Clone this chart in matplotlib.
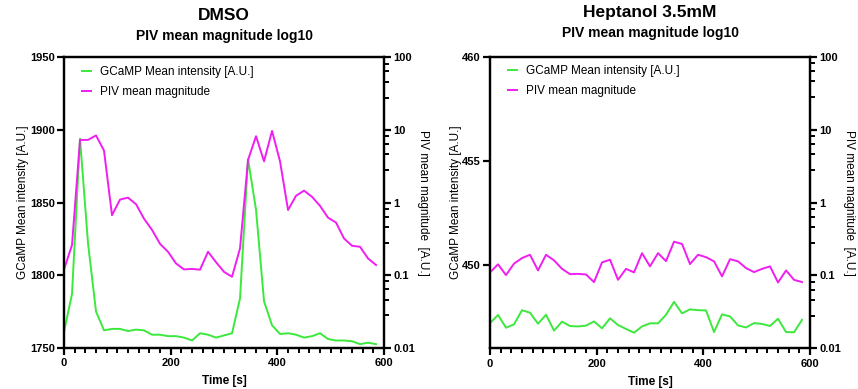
import numpy as np
import matplotlib
matplotlib.use("Agg")
import matplotlib.pyplot as plt
from matplotlib.ticker import FixedLocator, NullLocator, FuncFormatter, NullFormatter

plt.rcParams['font.family'] = ['Liberation Sans', 'DejaVu Sans']

time_s = list(range(0, 600, 15))

dmso_gcamp = [1761, 1787, 1894, 1822, 1775, 1762, 1763, 1763, 1761.5, 1762.5,
              1762, 1759, 1759, 1758, 1758, 1757, 1755, 1760, 1759, 1757,
              1758.5, 1760, 1784, 1880, 1845, 1782, 1765.5, 1759.5, 1760, 1759,
              1757, 1758, 1760, 1756, 1755, 1755, 1754.5, 1752.5, 1753.5, 1752.5]
dmso_piv = [0.12, 0.26, 7.3, 7.3, 8.4, 5.2, 0.67, 1.1, 1.17, 0.95,
            0.6, 0.42, 0.27, 0.21, 0.145, 0.12, 0.122, 0.119, 0.21, 0.151,
            0.111, 0.095, 0.234, 3.86, 8.2, 3.7, 9.7, 3.7, 0.79, 1.24,
            1.46, 1.2, 0.90, 0.62, 0.53, 0.32, 0.254, 0.246, 0.17, 0.138]

hept_gcamp = [447.21, 447.6, 446.99, 447.15, 447.83, 447.71, 447.18, 447.61, 446.85, 447.28,
              447.07, 447.05, 447.09, 447.29, 446.96, 447.44, 447.12, 446.93, 446.75, 447.05,
              447.2, 447.2, 447.61, 448.23, 447.68, 447.87, 447.83, 447.82, 446.78, 447.63,
              447.53, 447.1, 447.0, 447.21, 447.17, 447.07, 447.42, 446.78, 446.77, 447.37]
hept_piv = [0.110, 0.142, 0.101, 0.145, 0.173, 0.192, 0.117, 0.192, 0.161, 0.123,
            0.104, 0.105, 0.103, 0.081, 0.151, 0.164, 0.087, 0.123, 0.110, 0.202,
            0.133, 0.202, 0.157, 0.29, 0.27, 0.143, 0.192, 0.178, 0.156, 0.097,
            0.167, 0.156, 0.126, 0.111, 0.123, 0.133, 0.080, 0.117, 0.087, 0.081]

titles = ["DMSO", "Heptanol 3.5mM"]
subtitle = "PIV mean magnitude log10"
left_limits = [(1750, 1950), (446, 460)]
left_ticks = [[1750, 1800, 1850, 1900, 1950], [450, 455, 460]]
x_ticks = [0, 200, 400, 600]
log_ticks = [0.01, 0.1, 1, 10, 100]

GREEN = '#3DE83D'
MAGENTA = '#F01EF0'

fig = plt.figure(figsize=(8.58, 3.89), dpi=100)
positions = [[0.0746, 0.106, 0.373, 0.7465], [0.5711, 0.1046, 0.373, 0.7496]]
title_y = [(16, 36), (13, 33)]
datasets = [(dmso_gcamp, dmso_piv), (hept_gcamp, hept_piv)]

minor_log = []
for k in range(-2, 2):
    for j in range(1, 5):
        minor_log.append(10.0 ** k * (1 + 1.8 * j))

def fmt_log(v, pos):
    if v >= 1:
        return f"{v:.0f}"
    return f"{v:g}"

for i in range(2):
    ax = fig.add_axes(positions[i])
    ax2 = ax.twinx()
    g, p = datasets[i]
    l1, = ax.plot(time_s, g, color=GREEN, lw=1.4, label='GCaMP Mean intensity [A.U.]')
    l2, = ax2.plot(time_s, p, color=MAGENTA, lw=1.4, label='PIV mean magnitude')
    ax.set_xlim(0, 600)
    ax.set_ylim(*left_limits[i])
    ax.set_yticks(left_ticks[i])
    ax.set_xticks(x_ticks)
    ax.xaxis.set_minor_locator(FixedLocator(list(range(20, 600, 20))))
    ax.yaxis.set_minor_locator(NullLocator())
    ax2.set_yscale('log')
    ax2.set_ylim(0.01, 100)
    ax2.yaxis.set_major_locator(FixedLocator(log_ticks))
    ax2.yaxis.set_major_formatter(FuncFormatter(fmt_log))
    ax2.yaxis.set_minor_locator(FixedLocator(minor_log))
    ax2.yaxis.set_minor_formatter(NullFormatter())
    for a in (ax, ax2):
        for s in a.spines.values():
            s.set_linewidth(1.6)
        a.tick_params(which='major', length=5, width=1.6, labelsize=8, pad=1.5)
        a.tick_params(which='minor', length=3.5, width=1.4)
        for lab in a.get_xticklabels() + a.get_yticklabels():
            lab.set_fontweight('bold')
    ax.tick_params(axis='x', which='major', pad=2.5)
    ax.set_xlabel('Time [s]', fontsize=8.5, fontweight='bold', labelpad=5)
    ax.set_ylabel('GCaMP Mean intensity [A.U.]', fontsize=8.5, labelpad=0.5)
    ax2.set_ylabel('PIV mean magnitude  [A.U.]', fontsize=8.5, rotation=270, labelpad=10)
    ax.legend(handles=[l1, l2], loc='upper left', bbox_to_anchor=(0.055, 0.971),
              frameon=False, fontsize=8.5, handlelength=0.8, handletextpad=0.8,
              labelspacing=0.7, borderaxespad=0, borderpad=0)
    cx = positions[i][0] + positions[i][2] / 2
    fig.text(cx, 1 - title_y[i][0] / 389, titles[i], ha='center', va='center',
             fontsize=12.5, fontweight='bold')
    fig.text(cx, 1 - title_y[i][1] / 389, subtitle, ha='center', va='center',
             fontsize=10, fontweight='bold')

fig.savefig('out.png', dpi=100)
